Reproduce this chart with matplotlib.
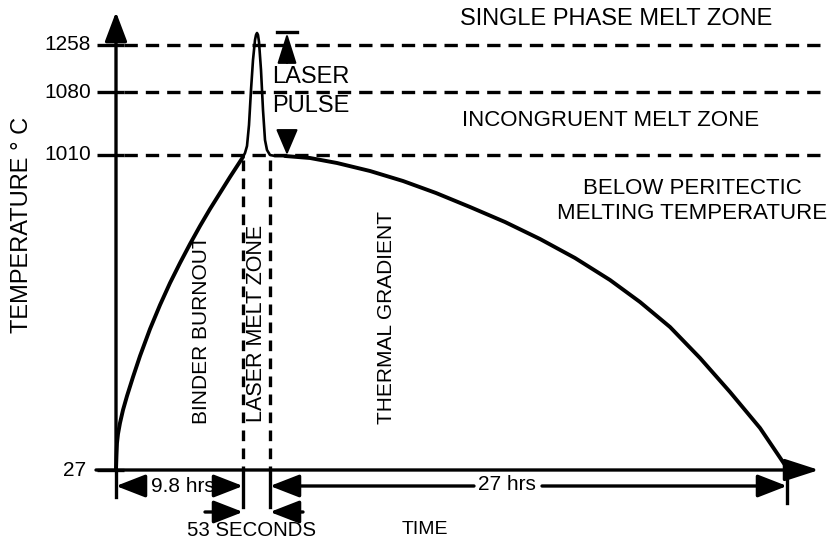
import matplotlib
matplotlib.use('Agg')
import matplotlib.pyplot as plt

plt.rcParams['font.family'] = ['Liberation Sans', 'DejaVu Sans']

# temperature levels and their (schematic) heights on the drawing
level_labels = ['27', '1010', '1080', '1258']
level_pos = [470, 155, 92, 45]

# time marks (schematic positions along the time axis)
t_start = 116
t_pulse_on = 243
t_pulse_off = 270
t_end = 787

# heating / binder burnout curve
heat_t = [116, 116.5, 117, 118, 120, 123, 127, 133, 140, 150, 160, 170,
          180, 190, 200, 210, 220, 230, 243]
heat_T = [470, 455, 443, 434, 423, 410, 396, 377, 356, 329, 305, 283,
          263, 244, 226, 209, 193, 177, 157]

# laser pulse
pulse_t = [243, 245, 247, 249, 251, 253, 255, 256, 257, 258, 259, 261,
           263, 265, 267, 270, 275, 285]
pulse_T = [157, 153, 146, 125, 90, 60, 40, 35, 33, 35, 42, 70,
           110, 140, 150, 155, 156, 156]

# cooling / thermal gradient curve
cool_t = [285, 310, 337, 370, 403, 436, 470, 505, 540, 575, 610, 640,
          670, 700, 730, 760, 787]
cool_T = [156, 158, 163, 171, 181, 193, 207, 222, 239, 258, 280, 302,
          327, 358, 392, 428, 468]

zone_labels = ['SINGLE PHASE MELT ZONE', 'INCONGRUENT MELT ZONE',
               'BELOW PERITECTIC\nMELTING TEMPERATURE']
stage_labels = ['BINDER BURNOUT', 'LASER MELT ZONE', 'THERMAL GRADIENT']
span_labels = ['9.8 hrs', '27 hrs', '53 SECONDS']

fig = plt.figure(figsize=(8.29, 5.48), dpi=100)
ax = fig.add_axes([0, 0, 1, 1])
ax.set_xlim(0, 829)
ax.set_ylim(548, 0)
ax.axis('off')

lw = 2.4
fs = 16

# axes with arrow heads
ax.annotate('', xy=(t_start, 12), xytext=(t_start, level_pos[0]),
            arrowprops=dict(arrowstyle='-|>,head_length=1.8,head_width=0.68',
                            mutation_scale=10, lw=lw, color='black',
                            shrinkA=0, shrinkB=0))
ax.annotate('', xy=(819, level_pos[0]), xytext=(t_start - 20, level_pos[0]),
            arrowprops=dict(arrowstyle='-|>,head_length=2.1,head_width=0.68',
                            mutation_scale=10, lw=lw, color='black',
                            shrinkA=0, shrinkB=0))

# level ticks, labels and dashed lines
for lab, y in zip(level_labels, level_pos):
    xr = 86 if lab == '27' else 91
    ax.text(xr, y, lab, ha='right', va='center', fontsize=15)
    ax.plot([97, 124], [y, y], color='black', lw=lw, solid_capstyle='butt')
    if lab != '27':
        ax.plot([124, 829], [y, y], color='black', lw=lw,
                dashes=(4.0, 2.4))

# stage boundaries
for t in [t_pulse_on, t_pulse_off]:
    ax.plot([t, t], [160, level_pos[0]], color='black', lw=lw,
            dashes=(3.2, 2.2))
    ax.plot([t, t], [level_pos[0], 507], color='black', lw=lw)
ax.plot([t_start, t_start], [level_pos[0], 497], color='black', lw=lw)
ax.plot([t_end, t_end], [463, 503], color='black', lw=lw)

# temperature profile
ax.plot(heat_t, heat_T, color='black', lw=2.8, solid_capstyle='round',
        solid_joinstyle='round')
ax.plot(pulse_t, pulse_T, color='black', lw=1.9, solid_joinstyle='round')
ax.plot(cool_t, cool_T, color='black', lw=2.8, solid_capstyle='round',
        solid_joinstyle='round')

# laser pulse indicator
ax.plot([277, 297], [32, 32], color='black', lw=lw)
ax.annotate('', xy=(287, 33), xytext=(287, 63),
            arrowprops=dict(arrowstyle='-|>,head_length=1.9,head_width=0.6',
                            mutation_scale=10, lw=1.5, color='black',
                            shrinkA=0, shrinkB=0))
ax.annotate('', xy=(287, 155), xytext=(287, 131),
            arrowprops=dict(arrowstyle='-|>,head_length=1.6,head_width=0.68',
                            mutation_scale=10, lw=1.5, color='black',
                            shrinkA=0, shrinkB=0))
ax.text(272, 77, 'LASER', ha='left', va='center', fontsize=17)
ax.text(272, 106, 'PULSE', ha='left', va='center', fontsize=17)

# zone labels
ax.text(616, 19, zone_labels[0], ha='center', va='center', fontsize=17)
ax.text(611, 120, zone_labels[1], ha='center', va='center', fontsize=fs)
ax.text(692, 201, zone_labels[2], ha='center', va='center', fontsize=fs,
        linespacing=1.25)

# stage labels
ax.text(202, 330, stage_labels[0], rotation=90, ha='center', va='center',
        fontsize=15)
ax.text(257, 323, stage_labels[1], rotation=90, ha='center', va='center',
        fontsize=15.5)
ax.text(387, 318, stage_labels[2], rotation=90, ha='center', va='center',
        fontsize=15)

# duration dimensions
arr = dict(arrowstyle='-|>,head_length=1.8,head_width=0.7', mutation_scale=10,
           lw=lw, color='black', shrinkA=0, shrinkB=0)
ax.annotate('', xy=(t_start, 486), xytext=(143, 486), arrowprops=arr)
ax.annotate('', xy=(t_pulse_on, 486), xytext=(220, 486), arrowprops=arr)
ax.text(183, 486, span_labels[0], ha='center', va='center', fontsize=15)

ax.annotate('', xy=(t_pulse_off, 486), xytext=(474, 486), arrowprops=arr)
ax.annotate('', xy=(t_end, 486), xytext=(542, 486), arrowprops=arr)
ax.text(507, 484, span_labels[1], ha='center', va='center', fontsize=15)

ax.annotate('', xy=(t_pulse_on, 512), xytext=(205, 512), arrowprops=arr)
ax.annotate('', xy=(t_pulse_off, 512), xytext=(303, 512), arrowprops=arr)
ax.text(252, 531, span_labels[2], ha='center', va='center', fontsize=14.7)

ax.text(425, 530, 'TIME', ha='center', va='center', fontsize=14)
ax.text(22, 225, 'TEMPERATURE \u00b0 C', rotation=90, ha='center',
        va='center', fontsize=17)

fig.savefig('out.png', dpi=100)
